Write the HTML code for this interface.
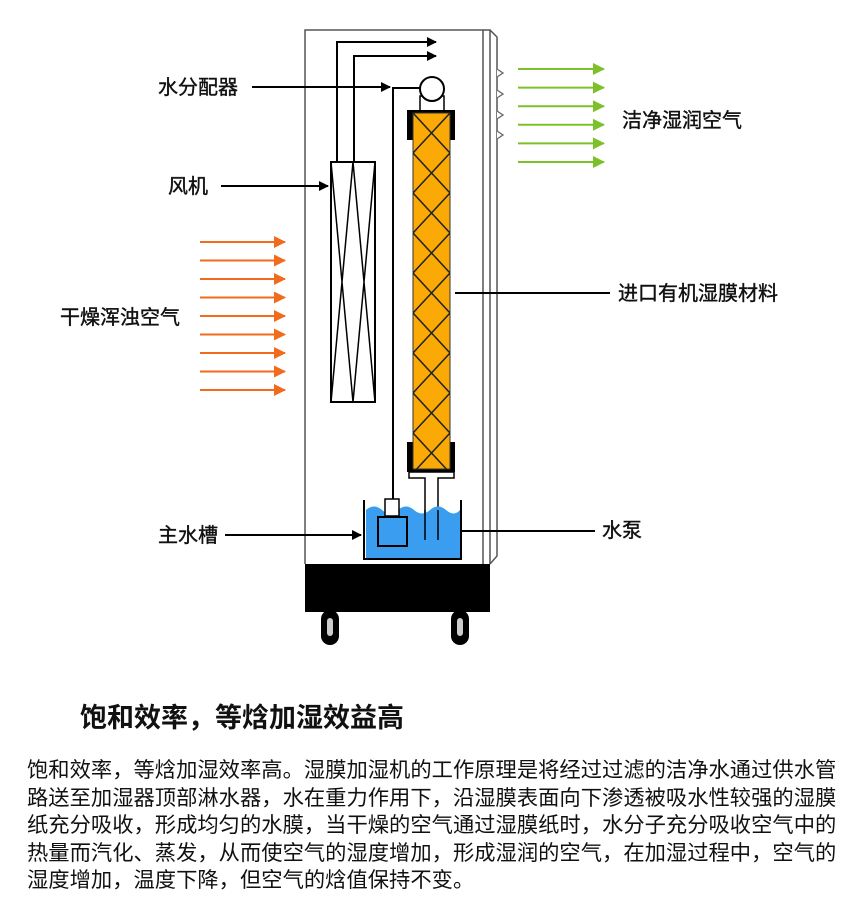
<!DOCTYPE html>
<html><head><meta charset="utf-8"><style>
body{margin:0;background:#fff;width:847px;height:909px;overflow:hidden;font-family:"Liberation Sans","Noto Sans CJK SC",sans-serif;}
.p{position:absolute;left:27px;width:796px;font-size:21.3px;color:#111;text-align:justify;text-align-last:justify;white-space:nowrap;line-height:28px}
</style></head><body>
<svg width="847" height="909" style="position:absolute;left:0;top:0">
<defs>
<pattern id="dia" x="413" y="113" width="37" height="40" patternUnits="userSpaceOnUse">
<path d="M0 0L37 40M37 0L0 40" stroke="#222" stroke-width="1.5"/>
</pattern>
<marker id="ab" markerWidth="10" markerHeight="10" refX="9" refY="5" orient="auto" markerUnits="userSpaceOnUse"><path d="M0 0L10 5L0 10z" fill="#000"/></marker>
<marker id="ao" markerWidth="12" markerHeight="12" refX="11" refY="6" orient="auto" markerUnits="userSpaceOnUse"><path d="M0 0L12 6L0 12z" fill="#f26a1b"/></marker>
<marker id="ag" markerWidth="12" markerHeight="12" refX="11" refY="6" orient="auto" markerUnits="userSpaceOnUse"><path d="M0 0L12 6L0 12z" fill="#7cc12a"/></marker>
</defs>
<g fill="none" stroke="#555" stroke-width="1.5">
<path d="M305 564V30H483V564"/>
<path d="M483 30H490L497 37V556L490 564"/>
<path d="M490 30V564"/>
</g>
<g fill="#fff" stroke="#666" stroke-width="1.3">
<path d="M497 69L503 73L497 77"/><path d="M497 90L503 94L497 98"/><path d="M497 111L503 115L497 119"/><path d="M497 131L503 135L497 139"/>
</g>
<rect x="305" y="564" width="185" height="48" fill="#000"/>
<g><rect x="321" y="610" width="18" height="35" rx="9" fill="#000"/><rect x="327" y="618" width="6" height="18" rx="3" fill="#ccc"/>
<rect x="451" y="610" width="18" height="35" rx="9" fill="#000"/><rect x="457" y="618" width="6" height="18" rx="3" fill="#ccc"/></g>
<g fill="none" stroke="#000" stroke-width="2">
<path d="M337 162V42H436" marker-end="url(#ab)"/>
<path d="M354 162V56H436" marker-end="url(#ab)"/>
<path d="M252 87H390" marker-end="url(#ab)"/>
<path d="M393 500V88H421"/>
<path d="M221 186H328" marker-end="url(#ab)"/>
<path d="M225 535H361" marker-end="url(#ab)"/>
<path d="M455 293H610"/>
<path d="M462 531H595"/>
</g>
<rect x="331" y="162" width="44" height="240" fill="#fff" stroke="#000" stroke-width="2"/>
<path d="M331 162L353 402L375 162M331 402L353 162L375 402" fill="none" stroke="#000" stroke-width="1.5"/>
<rect x="420" y="96" width="24" height="16" fill="#fff" stroke="#000" stroke-width="1.5"/>
<circle cx="432" cy="89" r="12" fill="#fff" stroke="#000" stroke-width="2"/>
<rect x="407" y="110" width="48" height="30" fill="#000"/>
<rect x="407" y="442" width="48" height="30" fill="#000"/>
<rect x="413" y="113" width="37" height="356" fill="#fbaa05" stroke="#333" stroke-width="1"/>
<rect x="413" y="113" width="37" height="356" fill="url(#dia)"/>
<path d="M409 472H454V478H438V540H425V478H409Z" fill="#fff" stroke="#000" stroke-width="1.5"/>
<path d="M366 510Q374 503 382 510T398 510T414 510T430 510T446 510T460 510V558H366Z" fill="#3a9df0"/>
<path d="M364 500V559H461V500" fill="none" stroke="#000" stroke-width="2"/>
<rect x="385" y="499" width="14" height="17" fill="#fff" stroke="#000" stroke-width="1.5"/>
<rect x="378" y="517" width="29" height="29" fill="#3a9df0" stroke="#000" stroke-width="2"/>
<path d="M425 510V540M438 510V540" stroke="#000" stroke-width="1.5"/>
<g stroke="#f26a1b" stroke-width="2">
<line x1="200" y1="242" x2="285" y2="242" marker-end="url(#ao)"/>
<line x1="200" y1="260.5" x2="285" y2="260.5" marker-end="url(#ao)"/>
<line x1="200" y1="279" x2="285" y2="279" marker-end="url(#ao)"/>
<line x1="200" y1="297.5" x2="285" y2="297.5" marker-end="url(#ao)"/>
<line x1="200" y1="316" x2="285" y2="316" marker-end="url(#ao)"/>
<line x1="200" y1="334.5" x2="285" y2="334.5" marker-end="url(#ao)"/>
<line x1="200" y1="353" x2="285" y2="353" marker-end="url(#ao)"/>
<line x1="200" y1="371.5" x2="285" y2="371.5" marker-end="url(#ao)"/>
<line x1="200" y1="390" x2="285" y2="390" marker-end="url(#ao)"/>
</g>
<g stroke="#7cc12a" stroke-width="2">
<line x1="518" y1="69" x2="604" y2="69" marker-end="url(#ag)"/>
<line x1="518" y1="87.6" x2="604" y2="87.6" marker-end="url(#ag)"/>
<line x1="518" y1="106.2" x2="604" y2="106.2" marker-end="url(#ag)"/>
<line x1="518" y1="124.8" x2="604" y2="124.8" marker-end="url(#ag)"/>
<line x1="518" y1="143.4" x2="604" y2="143.4" marker-end="url(#ag)"/>
<line x1="518" y1="162" x2="604" y2="162" marker-end="url(#ag)"/>
</g>
<g font-size="20" fill="#111" stroke="#111" stroke-width="0.4" font-family="Liberation Sans, Noto Sans CJK SC, sans-serif">
<text x="158" y="94">水分配器</text>
<text x="168" y="193">风机</text>
<text x="60" y="324">干燥浑浊空气</text>
<text x="622" y="127">洁净湿润空气</text>
<text x="618" y="300">进口有机湿膜材料</text>
<text x="158" y="542">主水槽</text>
<text x="602" y="537">水泵</text>
<text x="80" y="727" font-size="27" font-weight="bold" stroke="none">饱和效率，等焓加湿效益高</text>
</g>
</svg>
<div class="p" style="top:756px">饱和效率，等焓加湿效率高。湿膜加湿机的工作原理是将经过过滤的洁净水通过供水管</div>
<div class="p" style="top:783.5px">路送至加湿器顶部淋水器，水在重力作用下，沿湿膜表面向下渗透被吸水性较强的湿膜</div>
<div class="p" style="top:811px">纸充分吸收，形成均匀的水膜，当干燥的空气通过湿膜纸时，水分子充分吸收空气中的</div>
<div class="p" style="top:838.5px">热量而汽化、蒸发，从而使空气的湿度增加，形成湿润的空气，在加湿过程中，空气的</div>
<div class="p" style="top:866px;text-align-last:left;width:auto">湿度增加，温度下降，但空气的焓值保持不变。</div>
</body></html>
